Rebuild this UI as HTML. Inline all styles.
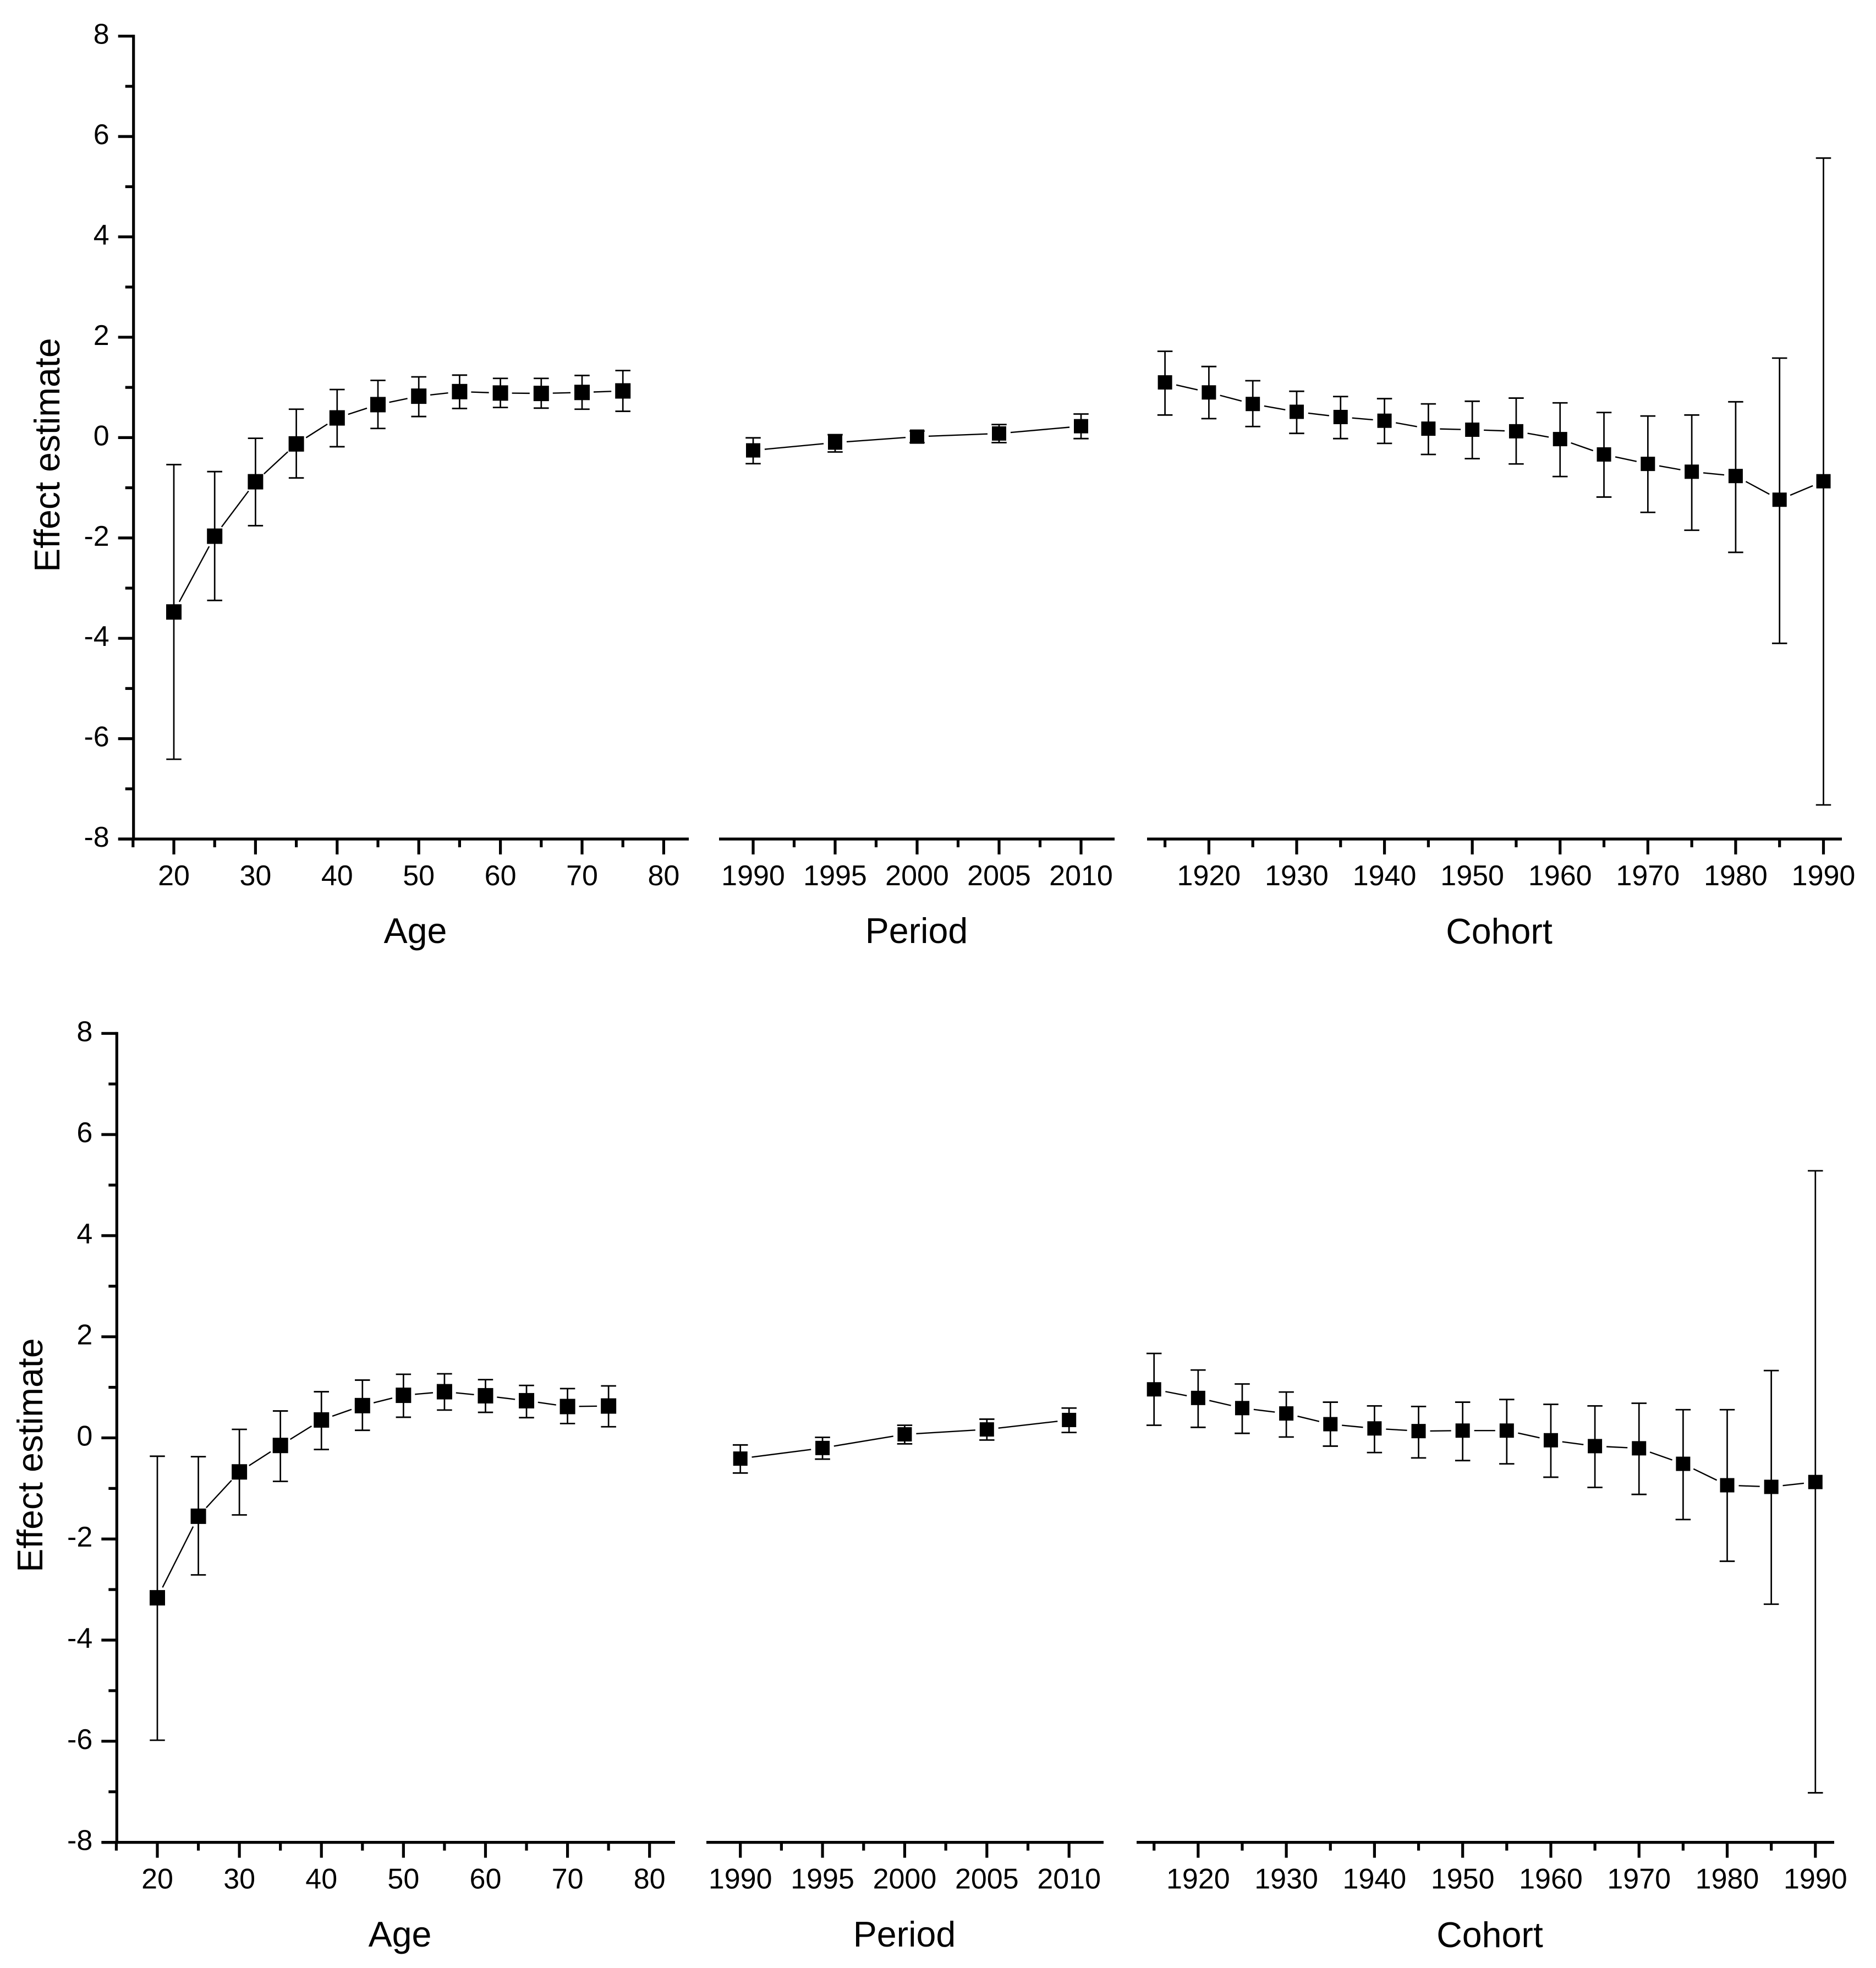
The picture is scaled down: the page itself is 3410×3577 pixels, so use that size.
<!DOCTYPE html>
<html lang="en">
<head>
<meta charset="utf-8">
<title>Age, period and cohort effect estimates</title>
<style>
html,body{margin:0;padding:0;background:#fff;}
svg{display:block;}
text{font-family:"Liberation Sans",Arial,sans-serif;fill:#000;}
.tick-label{font-size:52px;}
.axis-title{font-size:64.5px;}
</style>
</head>
<body>
<svg id="figure" xmlns="http://www.w3.org/2000/svg" width="3410" height="3577" viewBox="0 0 3410 3577">
  <rect x="0" y="0" width="3410" height="3577" fill="#ffffff"/>

  <g id="top-chart">
    <text class="axis-title" text-anchor="middle" transform="translate(108 827) rotate(-90)">Effect estimate</text>
    <g id="top-age"></g>
    <g id="top-period"></g>
    <g id="top-cohort"></g>
    <text class="axis-title" text-anchor="middle" x="755" y="1714">Age</text>
    <text class="axis-title" text-anchor="middle" x="1666" y="1714">Period</text>
    <text class="axis-title" text-anchor="middle" x="2725" y="1715">Cohort</text>
  </g>

  <g id="bottom-chart">
    <text class="axis-title" text-anchor="middle" transform="translate(77 2645) rotate(-90)">Effect estimate</text>
    <g id="bottom-age"></g>
    <g id="bottom-period"></g>
    <g id="bottom-cohort"></g>
    <text class="axis-title" text-anchor="middle" x="727" y="3538">Age</text>
    <text class="axis-title" text-anchor="middle" x="1644" y="3538">Period</text>
    <text class="axis-title" text-anchor="middle" x="2708" y="3539">Cohort</text>
  </g>
</svg>

<script>
// ---------- Data ----------
const ageCategories = [20,25,30,35,40,45,50,55,60,65,70,75];
const periodCategories = [1990,1995,2000,2005,2010];
const cohortCategories = [1915,1920,1925,1930,1935,1940,1945,1950,1955,1960,1965,1970,1975,1980,1985,1990];

const yTickLabels = [8,6,4,2,0,-2,-4,-6,-8];
const yMinorTicks = [7,5,3,1,-1,-3,-5,-7];
const ageTickLabels = [20,30,40,50,60,70,80];
const ageMinorTicks = [15,25,35,45,55,65,75];
const periodTickLabels = [1990,1995,2000,2005,2010];
const periodMinorTicks = [1992.5,1997.5,2002.5,2007.5];
const cohortTickLabels = [1920,1930,1940,1950,1960,1970,1980,1990];
const cohortMinorTicks = [1915,1925,1935,1945,1955,1965,1975,1985];

// Top chart
const topAgeEstimate = [-3.475,-1.965,-0.88,-0.126,0.392,0.657,0.825,0.916,0.888,0.88,0.90,0.93];
const topAgeUpper = [-0.538,-0.678,-0.014,0.566,0.958,1.14,1.21,1.245,1.18,1.18,1.238,1.336];
const topAgeLower = [-6.41,-3.245,-1.755,-0.804,-0.182,0.182,0.42,0.58,0.60,0.587,0.566,0.524];

const topPeriodEstimate = [-0.255,-0.10,0.019,0.082,0.227];
const topPeriodUpper = [-0.005,0.058,0.13,0.26,0.47];
const topPeriodLower = [-0.52,-0.287,-0.10,-0.10,-0.02];

const topCohortEstimate = [1.10,0.90,0.67,0.514,0.41,0.336,0.178,0.157,0.126,-0.03,-0.336,-0.524,-0.68,-0.766,-1.238,-0.87];
const topCohortUpper = [1.72,1.416,1.133,0.923,0.818,0.776,0.671,0.724,0.787,0.692,0.50,0.43,0.45,0.713,1.584,5.57];
const topCohortLower = [0.45,0.378,0.22,0.084,-0.02,-0.115,-0.336,-0.42,-0.525,-0.776,-1.185,-1.49,-1.846,-2.287,-4.10,-7.32];

// Bottom chart
const bottomAgeEstimate = [-3.163,-1.55,-0.673,-0.15,0.354,0.638,0.842,0.913,0.833,0.735,0.62,0.63];
const bottomAgeUpper = [-0.363,-0.372,0.168,0.532,0.913,1.143,1.258,1.267,1.152,1.037,0.975,1.028];
const bottomAgeLower = [-5.98,-2.71,-1.524,-0.86,-0.23,0.15,0.408,0.55,0.505,0.40,0.284,0.22];

const bottomPeriodEstimate = [-0.41,-0.20,0.07,0.167,0.354];
const bottomPeriodUpper = [-0.14,0.01,0.25,0.37,0.59];
const bottomPeriodLower = [-0.695,-0.42,-0.118,-0.043,0.107];

const bottomCohortEstimate = [0.96,0.79,0.589,0.483,0.271,0.187,0.134,0.144,0.144,-0.047,-0.163,-0.206,-0.513,-0.937,-0.969,-0.873];
const bottomCohortUpper = [1.67,1.342,1.066,0.907,0.706,0.632,0.621,0.706,0.759,0.663,0.632,0.685,0.557,0.557,1.331,5.283];
const bottomCohortLower = [0.25,0.208,0.09,0.017,-0.163,-0.29,-0.396,-0.449,-0.513,-0.778,-0.98,-1.118,-1.615,-2.44,-3.29,-7.02];

// ---------- Drawing ----------
const SVG_NS = 'http://www.w3.org/2000/svg';
const AXIS_W = 5.2;
const MAJOR_LEN = 28;
const MINOR_LEN = 15;
const CAP_W = 27.5;
const LINE_GAP = 21;

function make(tag, attrs) {
  const el = document.createElementNS(SVG_NS, tag);
  for (const k in attrs) el.setAttribute(k, attrs[k]);
  return el;
}
function linearScale(d0, d1, r0, r1) {
  return function (v) { return r0 + (v - d0) * (r1 - r0) / (d1 - d0); };
}

function drawYAxis(parent, xAxis, yScale) {
  const spine = make('line', {x1: xAxis, x2: xAxis, y1: yScale(8) - AXIS_W / 2, y2: yScale(-8), stroke: '#000', 'stroke-width': AXIS_W});
  
  
  parent.appendChild(spine);
  yTickLabels.forEach(function (v) {
    const tick = make('line', {x1: xAxis, x2: xAxis - MAJOR_LEN, y1: yScale(v), y2: yScale(v), stroke: '#000', 'stroke-width': AXIS_W});
    
    
    parent.appendChild(tick);
    const label = make('text', {x: xAxis - MAJOR_LEN - 16, y: yScale(v) + 14, 'text-anchor': 'end', 'class': 'tick-label'});
    
    
    label.textContent = String(v);
    parent.appendChild(label);
  });
  yMinorTicks.forEach(function (v) {
    const tick = make('line', {x1: xAxis, x2: xAxis - MINOR_LEN, y1: yScale(v), y2: yScale(v), stroke: '#000', 'stroke-width': AXIS_W});
    
    
    parent.appendChild(tick);
  });
}

function drawXAxis(parent, cfg, xScale) {
  const line = make('line', {x1: cfg.left, x2: cfg.right, y1: cfg.axisY, y2: cfg.axisY, stroke: '#000', 'stroke-width': AXIS_W});
  
  
  parent.appendChild(line);
  cfg.labels.forEach(function (v) {
    const tick = make('line', {x1: xScale(v), x2: xScale(v), y1: cfg.axisY, y2: cfg.axisY + MAJOR_LEN, stroke: '#000', 'stroke-width': AXIS_W});
    
    
    parent.appendChild(tick);
    const label = make('text', {x: xScale(v), y: cfg.labelY, 'text-anchor': 'middle', 'class': 'tick-label'});
    
    
    label.textContent = String(v);
    parent.appendChild(label);
  });
  cfg.minor.forEach(function (v) {
    const tick = make('line', {x1: xScale(v), x2: xScale(v), y1: cfg.axisY, y2: cfg.axisY + MINOR_LEN, stroke: '#000', 'stroke-width': AXIS_W});
    
    
    parent.appendChild(tick);
  });
}

function drawSeries(parent, cats, est, up, low, xScale, yScale, markerSize) {
  // connecting segments stop short of the markers
  for (let i = 0; i < cats.length - 1; i++) {
    const x0 = xScale(cats[i]), y0 = yScale(est[i]);
    const x1 = xScale(cats[i + 1]), y1 = yScale(est[i + 1]);
    const d = Math.hypot(x1 - x0, y1 - y0);
    const ux = (x1 - x0) / d, uy = (y1 - y0) / d;
    const seg = make('line', {x1: x0 + ux * LINE_GAP, y1: y0 + uy * LINE_GAP, x2: x1 - ux * LINE_GAP, y2: y1 - uy * LINE_GAP, stroke: '#000', 'stroke-width': 2.4});
    
    
    parent.appendChild(seg);
  }
  cats.forEach(function (c, i) {
    const x = xScale(c);
    const bar = make('line', {x1: x, x2: x, y1: yScale(up[i]), y2: yScale(low[i]), stroke: '#000', 'stroke-width': 2.7});
    
    
    parent.appendChild(bar);
    const capTop = make('line', {x1: x - CAP_W / 2, x2: x + CAP_W / 2, y1: yScale(up[i]), y2: yScale(up[i]), stroke: '#000', 'stroke-width': 2.8});
    
    
    parent.appendChild(capTop);
    const capBottom = make('line', {x1: x - CAP_W / 2, x2: x + CAP_W / 2, y1: yScale(low[i]), y2: yScale(low[i]), stroke: '#000', 'stroke-width': 2.8});
    
    
    parent.appendChild(capBottom);
    const marker = make('rect', {x: x - markerSize / 2, y: yScale(est[i]) - markerSize / 2, width: markerSize, height: markerSize, fill: '#000'});
    
    
    parent.appendChild(marker);
  });
}

const topY = linearScale(8, -8, 65.7, 1525);
const bottomY = linearScale(8, -8, 1878.3, 3348.6);

function drawPanel(id, cfg, yScale, cats, est, up, low) {
  const g = document.getElementById(id);
  const xScale = linearScale(cfg.d0, cfg.d1, cfg.r0, cfg.r1);
  drawXAxis(g, cfg, xScale);
  if (cfg.yAxisX) drawYAxis(g, cfg.yAxisX, yScale);
  drawSeries(g, cats, est, up, low, xScale, yScale, cfg.marker);
}

drawPanel('top-age',
  {d0: 20, d1: 80, r0: 316, r1: 1206.4, left: 215, right: 1252, axisY: 1525, labelY: 1609, labels: ageTickLabels, minor: ageMinorTicks, yAxisX: 242.7, marker: 28},
  topY, ageCategories, topAgeEstimate, topAgeUpper, topAgeLower);
drawPanel('top-period',
  {d0: 1990, d1: 2010, r0: 1369, r1: 1965, left: 1307, right: 2026, axisY: 1525, labelY: 1609, labels: periodTickLabels, minor: periodMinorTicks, marker: 26},
  topY, periodCategories, topPeriodEstimate, topPeriodUpper, topPeriodLower);
drawPanel('top-cohort',
  {d0: 1915, d1: 1990, r0: 2117.6, r1: 3314.5, left: 2085, right: 3348, axisY: 1525, labelY: 1609, labels: cohortTickLabels, minor: cohortMinorTicks, marker: 26},
  topY, cohortCategories, topCohortEstimate, topCohortUpper, topCohortLower);

drawPanel('bottom-age',
  {d0: 20, d1: 80, r0: 286, r1: 1180.7, left: 185, right: 1227, axisY: 3348.6, labelY: 3432.5, labels: ageTickLabels, minor: ageMinorTicks, yAxisX: 212.3, marker: 28},
  bottomY, ageCategories, bottomAgeEstimate, bottomAgeUpper, bottomAgeLower);
drawPanel('bottom-period',
  {d0: 1990, d1: 2010, r0: 1345.7, r1: 1943.2, left: 1284, right: 2006, axisY: 3348.6, labelY: 3432.5, labels: periodTickLabels, minor: periodMinorTicks, marker: 26},
  bottomY, periodCategories, bottomPeriodEstimate, bottomPeriodUpper, bottomPeriodLower);
drawPanel('bottom-cohort',
  {d0: 1915, d1: 1990, r0: 2097.7, r1: 3299.8, left: 2066, right: 3334, axisY: 3348.6, labelY: 3432.5, labels: cohortTickLabels, minor: cohortMinorTicks, marker: 26},
  bottomY, cohortCategories, bottomCohortEstimate, bottomCohortUpper, bottomCohortLower);
</script>
</body>
</html>
